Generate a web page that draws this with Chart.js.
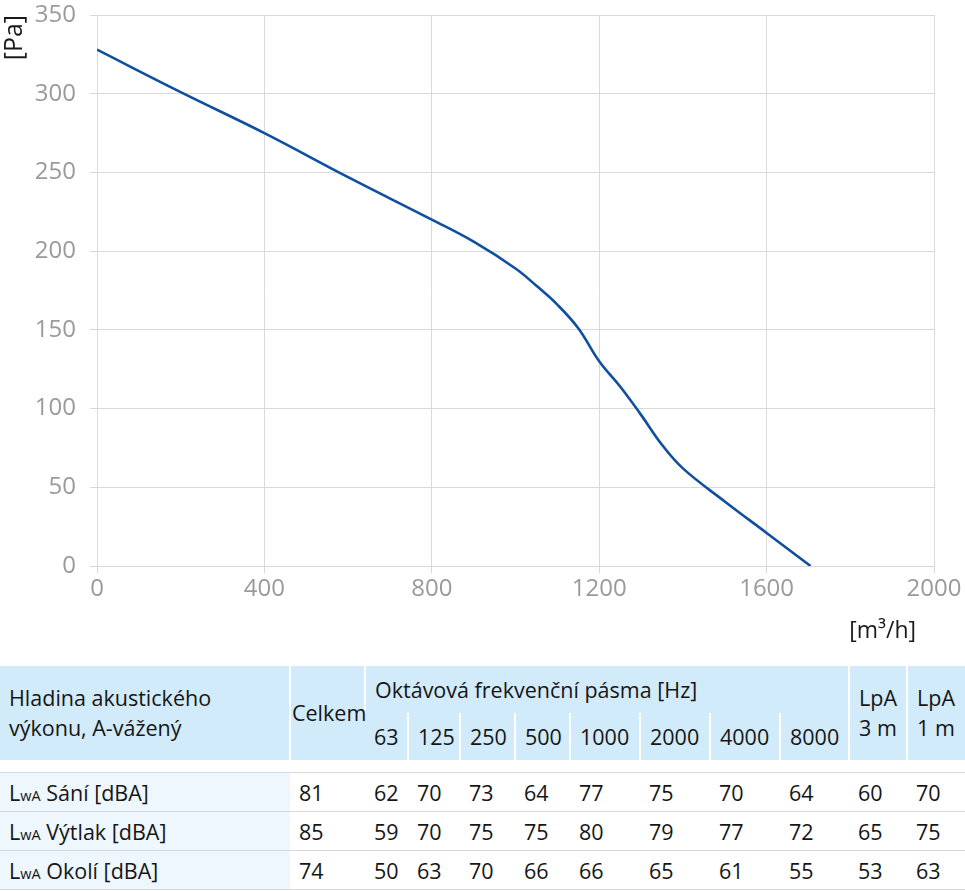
<!DOCTYPE html>
<html>
<head>
<meta charset="utf-8">
<script src="https://cdn.jsdelivr.net/npm/chart.js@4/dist/chart.umd.min.js"></script>
<style>
    body { margin: 0; background: #fff; font-family: "Open Sans", sans-serif; }
    #chart-wrap { position: absolute; left: 0; top: 0; width: 965px; height: 645px; }
    table { position: absolute; left: 0; top: 666px; width: 965px; border-collapse: collapse; table-layout: fixed; font-size: 21.5px; color: #161616; }
    th { font-weight: normal; text-align: left; background: #d2ebfa; padding: 0 0 0 9px; vertical-align: middle; line-height: 30px; white-space: nowrap; }
    th.sep { border-left: 2px solid #fff; }
    td { padding: 0 0 0 9px; height: 38px; border-bottom: 1px solid #d8d8d8; white-space: nowrap; }
    td.label { background: #eef7fd; }
    tr.gap td { height: 12px; border-bottom: 1px solid #d8d8d8; background: #fff; padding: 0; }
    .s { font-size: 14.5px; }
</style>
</head>
<body>
<div id="chart-wrap"><canvas id="chart"></canvas></div>
<table id="noise"></table>
<script>
// curve of the fan: flow [m3/h] vs static pressure [Pa]
const flowValues = [0, 200, 400, 600, 800, 900, 1000, 1050, 1100, 1150, 1200, 1250, 1300, 1350, 1400, 1500, 1600, 1705];
const pressureValues = [328, 301, 275, 247, 220, 206, 189, 178, 166, 151, 130, 114, 96, 77, 62, 41, 21, 0];

// acoustic table
const rowLabels = ['Sání', 'Výtlak', 'Okolí'];
const bands = ['63', '125', '250', '500', '1000', '2000', '4000', '8000'];
const totalValues = [81, 85, 74];
const bandValues = [
    [62, 70, 73, 64, 77, 75, 70, 64],
    [59, 70, 75, 75, 80, 79, 77, 72],
    [50, 63, 70, 66, 66, 65, 61, 55]
];
const lpa3Values = [60, 65, 53];
const lpa1Values = [70, 75, 63];

function buildTable() {
    const widths = [290, 75, 43, 52, 55, 55, 70, 70, 70, 69, 58, 58];
    let html = '<colgroup>' + widths.map(w => `<col style="width:${w}px">`).join('') + '</colgroup>';
    html += `<tr style="height:47px">
        <th rowspan="2">Hladina akustického<br>výkonu, A-vážený</th>
        <th rowspan="2" class="sep" style="padding-left:1px">Celkem</th>
        <th colspan="8" class="sep">Oktávová frekvenční pásma [Hz]</th>
        <th rowspan="2" class="sep">LpA<br>3 m</th>
        <th rowspan="2" class="sep">LpA<br>1 m</th>
    </tr>`;
    html += '<tr style="height:47px">' + bands.map((b, i) => `<th${i > 0 ? ' class="sep"' : ''}>${b}</th>`).join('') + '</tr>';
    html += '<tr class="gap"><td colspan="12"></td></tr>';
    rowLabels.forEach((label, r) => {
        html += '<tr>';
        html += `<td class="label">L<span class="s">wA</span> ${label} [dBA]</td>`;
        html += `<td>${totalValues[r]}</td>`;
        bandValues[r].forEach(v => { html += `<td>${v}</td>`; });
        html += `<td>${lpa3Values[r]}</td><td>${lpa1Values[r]}</td>`;
        html += '</tr>';
    });
    document.getElementById('noise').innerHTML = html;
}

function createChart() {
    const ctx = document.getElementById('chart').getContext('2d');
    const points = flowValues.map((x, i) => ({ x: x, y: pressureValues[i] }));
    const gridColor = '#d9d9d9';
    const tickFont = { family: '"Open Sans", sans-serif', size: 24 };

    return new Chart(ctx, {
        type: 'line',
        data: {
            datasets: [{
                data: points,
                borderColor: '#0e4f9f',
                borderWidth: 2.6,
                pointRadius: 0,
                tension: 0.4,
                fill: false
            }]
        },
        options: {
            responsive: true,
            maintainAspectRatio: false,
            animation: false,
            layout: { padding: { top: 15, right: 31, left: 0, bottom: 0 } },
            plugins: {
                legend: { display: false },
                tooltip: { enabled: false }
            },
            scales: {
                x: {
                    type: 'linear',
                    min: 0,
                    max: 2000,
                    ticks: { stepSize: 400, color: '#9a9a9a', font: tickFont, padding: 2, callback: v => String(v) },
                    grid: { color: gridColor, tickLength: 7 },
                    border: { color: gridColor },
                    title: {
                        display: true,
                        text: '[m³/h]   ',
                        align: 'end',
                        color: '#1a1a1a',
                        font: { family: '"Open Sans", sans-serif', size: 23 },
                        padding: { top: 0, bottom: 0 }
                    },
                    afterFit: scale => { scale.height = 79; }
                },
                y: {
                    min: 0,
                    max: 350,
                    ticks: { stepSize: 50, color: '#9a9a9a', font: tickFont, padding: 14, callback: v => String(v) },
                    grid: { color: gridColor, tickLength: 7 },
                    border: { color: gridColor },
                    title: {
                        display: true,
                        text: '[Pa]',
                        align: 'end',
                        color: '#1a1a1a',
                        font: { family: '"Open Sans", sans-serif', size: 25 },
                        padding: 0
                    },
                    afterFit: scale => {
                        scale.width = 97;
                        scale.paddingTop = 0;
                        scale.paddingBottom = 0;
                    }
                }
            }
        }
    });
}

buildTable();
createChart();
</script>
</body>
</html>
